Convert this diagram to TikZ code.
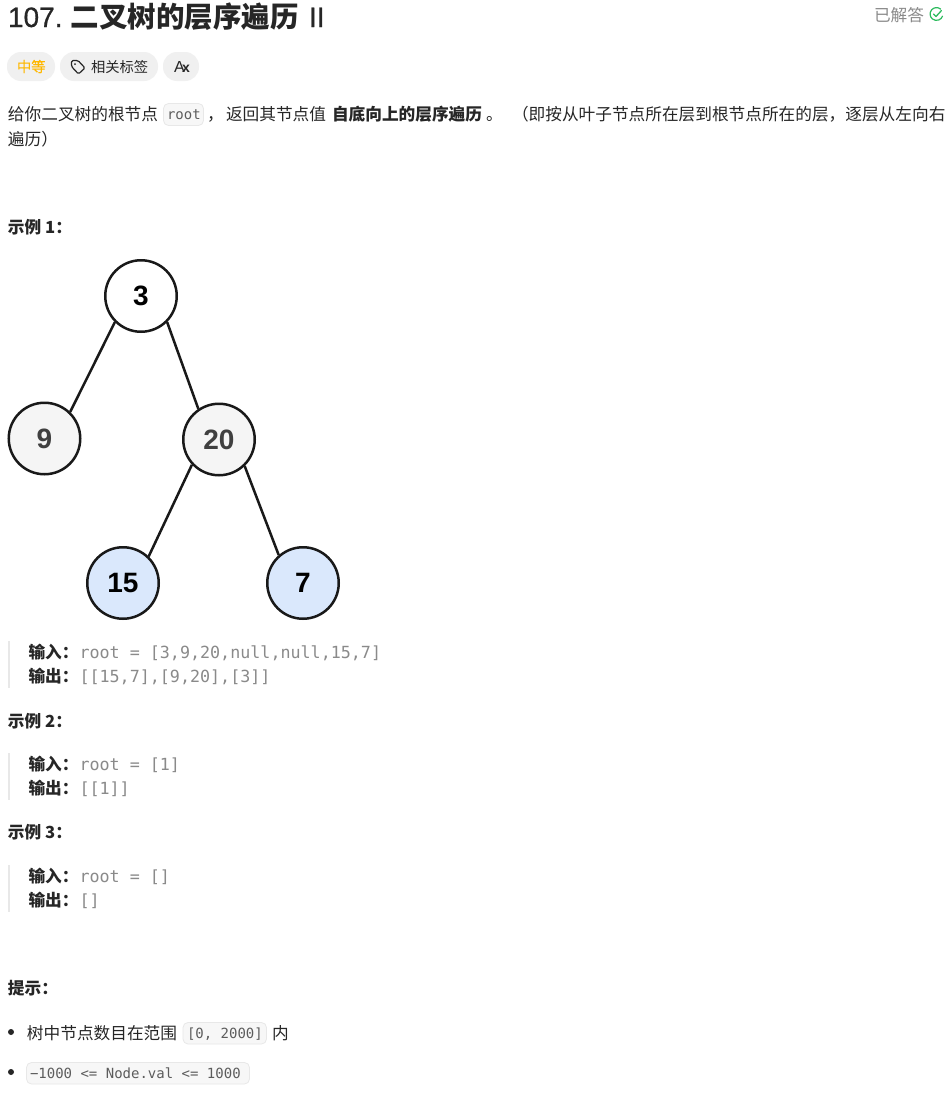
\documentclass[tikz,border=0pt]{standalone}
\usepackage{fontspec}
\setmainfont{Noto Sans CJK SC}
\setmonofont{DejaVu Sans Mono}
\newfontfamily\digitfont{Liberation Sans}
\newfontfamily\titlefont[FakeBold=0.6]{Liberation Sans}
\newfontfamily\latinfont{Liberation Sans}
\newfontfamily\medcjk[FakeBold=0.4]{Noto Sans CJK SC}
\definecolor{ink}{HTML}{262626}
\definecolor{graytext}{HTML}{8A8A8A}
\definecolor{codegray}{HTML}{5C5C5C}
\definecolor{pill}{HTML}{F0F0F0}
\definecolor{codebg}{HTML}{F7F7F7}
\definecolor{codeline}{HTML}{E8E8E8}
\definecolor{bluefill}{HTML}{DAE8FC}
\definecolor{grayfill}{HTML}{F5F5F5}
\definecolor{easyorange}{HTML}{FFB800}
\definecolor{okgreen}{HTML}{2CBB5D}
\tikzset{
  x=1pt,y=-1pt,
  txt/.style={anchor=base west,inner sep=0pt,outer sep=0pt,text=ink,font=\fontsize{16.67}{20}\selectfont},
  btxt/.style={txt,font=\fontsize{16.67}{20}\selectfont\bfseries},
  smalltxt/.style={txt,font=\fontsize{14.3}{18}\selectfont},
  mono/.style={anchor=base west,inner sep=0pt,outer sep=0pt,text=graytext,font=\fontsize{16.7}{20}\selectfont\ttfamily},
  icode/.style={anchor=base west,inner sep=0pt,outer sep=0pt,text=codegray,font=\fontsize{14}{17}\selectfont\ttfamily},
  codebox/.style={draw=codeline,fill=codebg,line width=0.8pt,rounded corners=5pt},
  pillbox/.style={fill=pill,rounded corners=14pt},
  bar/.style={fill=codeline},
  tree/.style={circle,draw=black!90,line width=2.5pt,minimum size=71.5pt,inner sep=0pt,
     font=\digitfont\bfseries\fontsize{28}{30}\selectfont},
  edge/.style={draw=black!90,line width=2.5pt},
}
\begin{document}
\begin{tikzpicture}
\useasboundingbox[fill=white] (0,0) rectangle (950,1103);
% title
\node[txt,font=\titlefont\fontsize{28}{32}\selectfont] (t1) at (8,27) {107.};
\node[txt,font=\fontsize{28.5}{32}\selectfont\bfseries] (t2) at (70.5,27) {二叉树的层序遍历};
\node[txt,font=\titlefont\fontsize{28}{32}\selectfont] (t3) at (309,27) {II};
\node[txt,text=graytext] (solved) at (874,21) {已解答};
\draw[okgreen,line width=1.2pt,line cap=round] (940.6,9.1) arc[start angle=-50,delta angle=-290,radius=6.4];
\draw[okgreen,line width=1.3pt,line cap=round,line join=round] (933.5,14) -- (936,16.5) -- (941.5,10.5);
% pills
\fill[pillbox] (7,52) rectangle (55,81);
\fill[pillbox] (60,52) rectangle (158,81);
\fill[pillbox] (163,52) rectangle (199,81);
\node[txt,font=\medcjk\fontsize{14.3}{18}\selectfont,text=easyorange] (easy) at (17,72) {中等};
\draw[ink,line width=1.2pt,line join=round,rounded corners=1.5pt] (71.5,60.5) -- (78,60.5) -- (85,68) -- (78.5,74) -- (71.5,66.5) -- cycle;
\fill[ink] (75,64) circle (1pt);
\node[smalltxt] (tags) at (91,72) {相关标签};
\node[txt,font=\latinfont\fontsize{16}{18}\selectfont] (lang) at (174,72) {A};
\node[txt,font=\latinfont\fontsize{14}{14}\selectfont\bfseries] (lang2) at (182,72) {x};
% description
\node[txt] (d1) at (8,120) {给你二叉树的根节点};
\draw[codebox] (163.5,103.5) rectangle (203.5,125.5);
\node[icode] (d2) at (167,119) {root};
\node[txt] (d3) at (207,120) {，};
\node[txt] (d4) at (226,120) {返回其节点值};
\node[btxt] (d5) at (332,120) {自底向上的层序遍历};
\node[txt] (d6) at (486,120) {。};
\node[txt] (d7) at (512,120) {（即按从叶子节点所在层到根节点所在的层，逐层从左向右};
\node[txt] (d8) at (8,145) {遍历）};
% example 1
\node[btxt] (h1) at (8,233.5) {示例 1：};
\node[tree] (n3) at (141,296) {3};
\node[tree,fill=grayfill,text=black!75] (n9) at (44.5,438.5) {9};
\node[tree,fill=grayfill,text=black!75] (n20) at (219,439.5) {20};
\node[tree,fill=bluefill] (n15) at (123,583) {15};
\node[tree,fill=bluefill] (n7) at (303,583) {7};
\draw[edge] (n3.225) -- (n9.46);
\draw[edge] (n3.315) -- (n20.124);
\draw[edge] (n20.223) -- (n15.46);
\draw[edge] (n20.314) -- (n7.131);
\fill[bar] (7.5,641) rectangle (9.5,688);
\node[btxt] (i1) at (28.5,658) {输入：};
\node[mono] (i1v) at (79.5,658) {root = [3,9,20,null,null,15,7]};
\node[btxt] (o1) at (28.5,682) {输出：};
\node[mono] (o1v) at (79.5,682) {[[15,7],[9,20],[3]]};
% example 2
\node[btxt] (h2) at (8,727) {示例 2：};
\fill[bar] (7.5,753) rectangle (9.5,800);
\node[btxt] (i2) at (28.5,770) {输入：};
\node[mono] (i2v) at (79.5,770) {root = [1]};
\node[btxt] (o2) at (28.5,794) {输出：};
\node[mono] (o2v) at (79.5,794) {[[1]]};
% example 3
\node[btxt] (h3) at (8,838.5) {示例 3：};
\fill[bar] (7.5,865) rectangle (9.5,912);
\node[btxt] (i3) at (28.5,882) {输入：};
\node[mono] (i3v) at (79.5,882) {root = []};
\node[btxt] (o3) at (28.5,906) {输出：};
\node[mono] (o3v) at (79.5,906) {[]};
% hints
\node[btxt] (h4) at (8,994) {提示：};
\fill[ink] (11,1032) circle (3pt);
\node[txt] (b1) at (27,1039) {树中节点数目在范围};
\draw[codebox] (183,1022.5) rectangle (266.5,1044);
\node[icode] (b1c) at (187,1038) {[0, 2000]};
\node[txt] (b1e) at (272,1039) {内};
\fill[ink] (11,1072) circle (3pt);
\draw[codebox] (26.5,1062.5) rectangle (249.5,1084);
\node[icode] (b2c) at (30,1078) {−1000 <= Node.val <= 1000};
\end{tikzpicture}
\end{document}
